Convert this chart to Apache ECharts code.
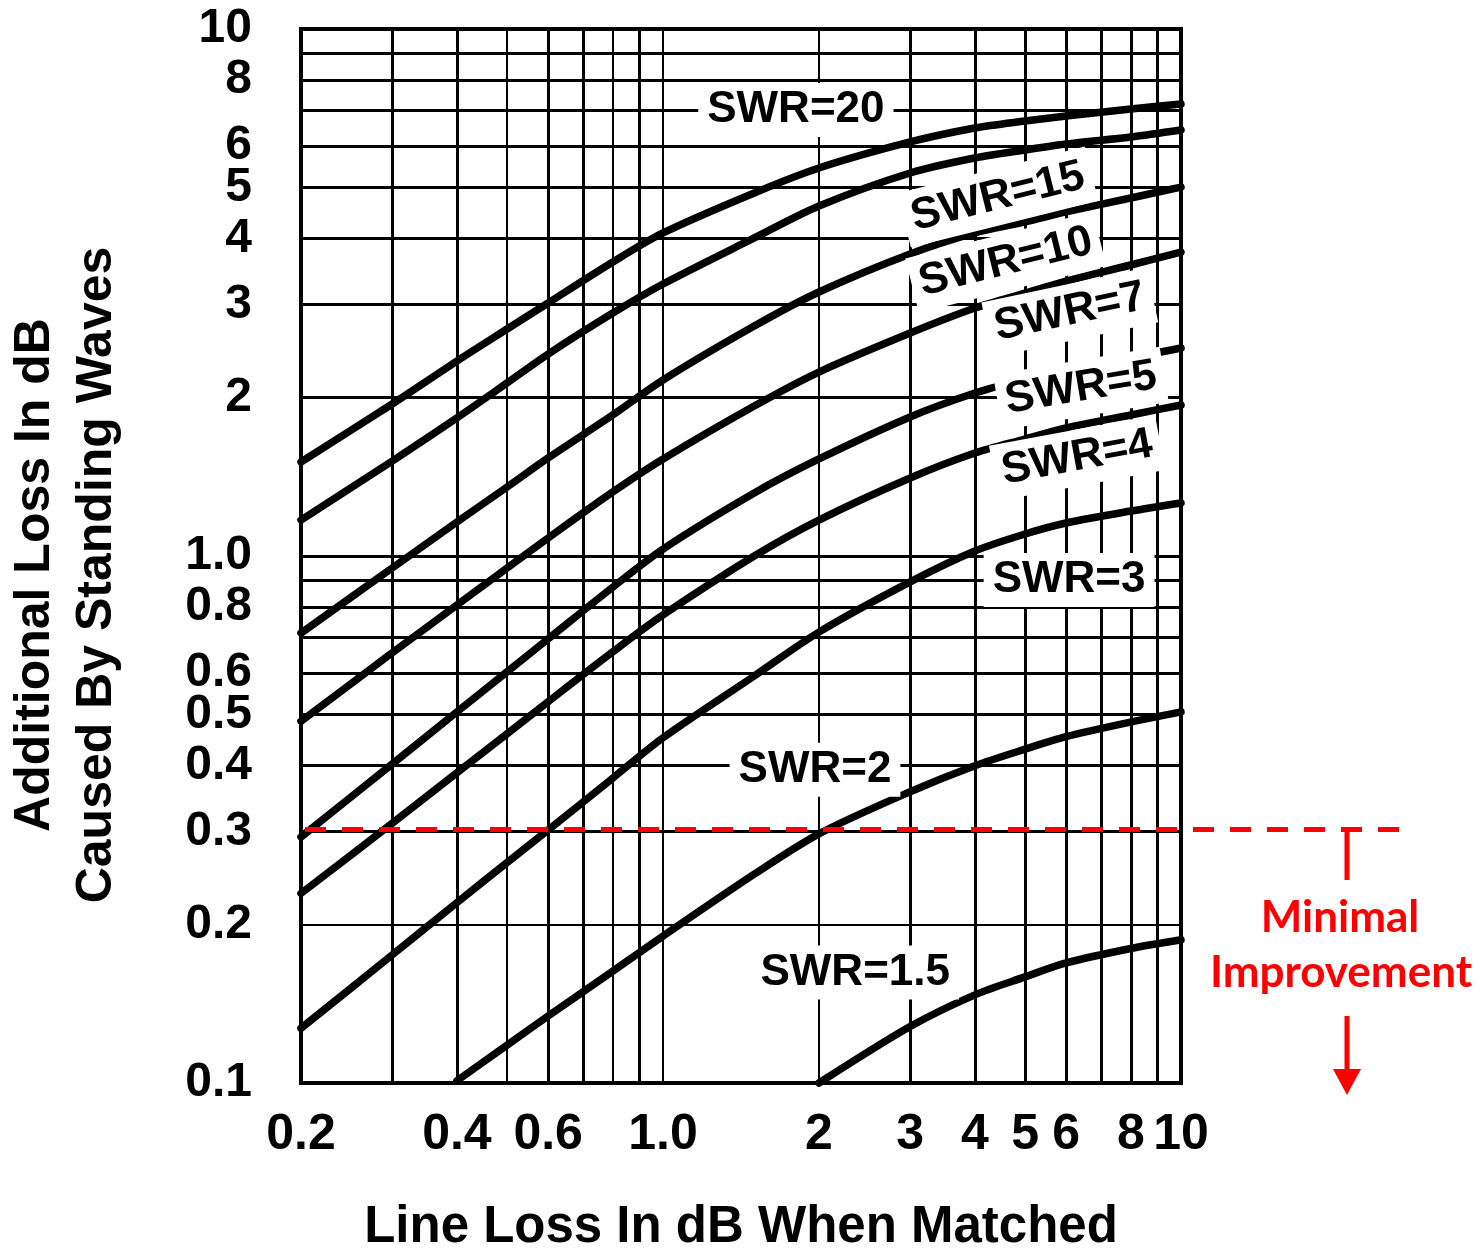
<!DOCTYPE html>
<html>
<head>
<meta charset="utf-8">
<script src="https://cdn.jsdelivr.net/npm/echarts@6/dist/echarts.min.js"></script>
<style>
html,body{margin:0;padding:0;background:#fff;}
#chart{width:1481px;height:1248px;}
</style>
</head>
<body>
<div id="chart"></div>
<script>
// ---- data ----
const lineLoss = [0.2, 0.3, 0.4, 0.5, 0.6, 0.8, 1.0, 1.5, 2, 3, 4, 5, 6, 8, 10];
const swr20  = [1.508, 1.943, 2.344, 2.696, 3.021, 3.613, 4.102, 4.885, 5.449, 6.105, 6.488, 6.689, 6.837, 7.050, 7.206];
const swr15  = [1.170, 1.514, 1.828, 2.130, 2.417, 2.891, 3.282, 4.013, 4.615, 5.331, 5.692, 5.895, 6.051, 6.239, 6.432];
const swr10  = [0.714, 0.949, 1.160, 1.352, 1.535, 1.852, 2.158, 2.731, 3.169, 3.742, 4.102, 4.304, 4.496, 4.779, 5.013];
const swr7   = [0.486, 0.655, 0.807, 0.949, 1.082, 1.323, 1.528, 1.926, 2.234, 2.649, 2.955, 3.155, 3.325, 3.566, 3.774];
const swr5   = [0.293, 0.403, 0.506, 0.603, 0.696, 0.873, 1.031, 1.317, 1.528, 1.836, 2.038, 2.168, 2.264, 2.376, 2.481];
const swr4   = [0.229, 0.311, 0.388, 0.460, 0.529, 0.658, 0.773, 1.000, 1.170, 1.406, 1.568, 1.667, 1.750, 1.852, 1.934];
const swr3   = [0.127, 0.175, 0.220, 0.262, 0.302, 0.379, 0.452, 0.592, 0.717, 0.893, 1.022, 1.101, 1.155, 1.217, 1.261];
const swr2   = [null, null, 0.101, 0.118, 0.134, 0.163, 0.190, 0.249, 0.297, 0.357, 0.400, 0.430, 0.454, 0.484, 0.506];
const swr1_5 = [null, null, null, null, null, null, null, null, 0.100, 0.128, 0.147, 0.159, 0.169, 0.180, 0.187];

const xTickLabels = [0.2, 0.4, 0.6, 1.0, 2, 3, 4, 5, 6, 8, 10];
const yTickLabels = [0.1, 0.2, 0.3, 0.4, 0.5, 0.6, 0.8, 1.0, 2, 3, 4, 5, 6, 8, 10];
const xGridValues = [0.3, 0.4, 0.5, 0.6, 0.7, 0.8, 0.9, 1, 2, 3, 4, 5, 6, 7, 8, 9];
const yGridValues = [0.2, 0.3, 0.4, 0.5, 0.6, 0.7, 0.8, 0.9, 1, 2, 3, 4, 5, 6, 7, 8, 9];
const thresholdLoss = 0.3;

const curveNames = ['SWR=20', 'SWR=15', 'SWR=10', 'SWR=7', 'SWR=5', 'SWR=4', 'SWR=3', 'SWR=2', 'SWR=1.5'];
const curveValues = [swr20, swr15, swr10, swr7, swr5, swr4, swr3, swr2, swr1_5];

// label anchors (data coordinates) and their rotation in degrees
const labelAnchors = [
  {at: [1.805, 7.02], rot: 0},
  {at: [4.43, 4.80], rot: 14},
  {at: [4.59, 3.61], rot: 14},
  {at: [6.10, 2.90], rot: 12},
  {at: [6.41, 2.08], rot: 9.5},
  {at: [6.30, 1.535], rot: 10.5},
  {at: [6.08, 0.90], rot: 0},
  {at: [1.965, 0.393], rot: 0},
  {at: [2.35, 0.162], rot: 0}
];

const FONT = '"Liberation Sans", Arial, sans-serif';
const thinX = [0.5, 0.8, 1, 2];
const thinY = [0.2];

function fmt(v) {
  const r = +(+v).toPrecision(3);
  return r === 1 ? '1.0' : String(r);
}

const chart = echarts.init(document.getElementById('chart'), null, {renderer: 'canvas'});

const gridLines = [];
xGridValues.forEach(v => gridLines.push({xAxis: v, lineStyle: {width: thinX.includes(v) ? 2 : 3}}));
yGridValues.forEach(v => gridLines.push({yAxis: v, lineStyle: {width: thinY.includes(v) ? 2 : 3}}));

const series = [{
  type: 'line',
  name: 'grid',
  data: [],
  symbol: 'none',
  silent: true,
  markLine: {
    silent: true,
    animation: false,
    symbol: ['none', 'none'],
    label: {show: false},
    emphasis: {disabled: true},
    lineStyle: {color: '#000', type: 'solid', width: 3},
    data: gridLines
  }
}];

curveNames.forEach((name, k) => {
  const pts = [];
  lineLoss.forEach((x, i) => {
    const y = curveValues[k][i];
    if (y != null) pts.push([x, y]);
  });
  series.push({
    type: 'line',
    name: name,
    data: pts,
    symbol: 'none',
    smooth: 0.3,
    clip: false,
    silent: true,
    lineStyle: {color: '#000', width: 7.5, cap: 'round', join: 'round'},
    z: 3
  });
});

const axisLabelCommon = {fontFamily: FONT, fontWeight: 'bold', color: '#000'};

chart.setOption({
  animation: false,
  backgroundColor: '#fff',
  grid: {left: 301, right: 300, top: 29, bottom: 165, outerBoundsMode: 'none', containLabel: false,
         show: true, borderColor: '#000', borderWidth: 4, backgroundColor: 'transparent'},
  xAxis: {
    type: 'log', logBase: 10, min: 0.2, max: 10,
    axisLine: {show: false}, axisTick: {show: false}, splitLine: {show: false},
    axisLabel: Object.assign({customValues: xTickLabels, formatter: fmt, fontSize: 50, margin: 27}, axisLabelCommon),
    name: 'Line Loss In dB When Matched',
    nameLocation: 'middle', nameGap: 119,
    nameTextStyle: {fontFamily: FONT, fontWeight: 'bold', fontSize: 51, color: '#000'}
  },
  yAxis: {
    type: 'log', logBase: 10, min: 0.1, max: 10,
    axisLine: {show: false}, axisTick: {show: false}, splitLine: {show: false},
    axisLabel: Object.assign({customValues: yTickLabels, formatter: fmt, fontSize: 48, margin: 49}, axisLabelCommon),
    name: 'Additional Loss In dB\nCaused By Standing Waves',
    nameLocation: 'middle', nameGap: 173, nameRotate: 90,
    nameTextStyle: {fontFamily: FONT, fontWeight: 'bold', fontSize: 50, lineHeight: 62, color: '#000',
                    padding: [0, 38, 0, 0]}
  },
  series: series
});

function drawOverlays() {
  const els = [];
  curveNames.forEach((name, k) => {
    const a = labelAnchors[k];
    const p = chart.convertToPixel({gridIndex: 0}, a.at);
    els.push({
      type: 'text', x: p[0], y: p[1], rotation: a.rot * Math.PI / 180, z: 100, silent: true,
      style: {
        text: name, font: 'bold 44px ' + FONT, fill: '#000',
        align: 'center', verticalAlign: 'middle',
        backgroundColor: '#fff', padding: a.rot ? [6, 8] : [5, 9]
      }
    });
  });
  const y0 = chart.convertToPixel({yAxisIndex: 0}, thresholdLoss) - 2;
  const xStart = chart.convertToPixel({xAxisIndex: 0}, 0.2) + 4;
  const red = '#FF0000';
  els.push({type: 'line', z: 101, silent: true, shape: {x1: xStart, y1: y0, x2: 1408, y2: y0},
    style: {stroke: red, lineWidth: 5, lineDash: [21, 16]}});
  els.push({type: 'line', z: 101, silent: true, shape: {x1: 1347, y1: y0, x2: 1347, y2: 880},
    style: {stroke: red, lineWidth: 5}});
  els.push({type: 'text', x: 1340, y: 918, z: 101, silent: true,
    style: {text: 'Minimal', font: 'bold 44px Lato, "Open Sans", sans-serif', fill: red, align: 'center', verticalAlign: 'middle'}});
  els.push({type: 'text', x: 1341, y: 973, z: 101, silent: true,
    style: {text: 'Improvement', font: 'bold 44px Lato, "Open Sans", sans-serif', fill: red, align: 'center', verticalAlign: 'middle'}});
  els.push({type: 'line', z: 101, silent: true, shape: {x1: 1347, y1: 1016, x2: 1347, y2: 1074},
    style: {stroke: red, lineWidth: 5}});
  els.push({type: 'polygon', z: 101, silent: true, shape: {points: [[1333, 1069], [1361, 1069], [1347, 1095]]},
    style: {fill: red}});
  chart.setOption({graphic: {elements: els}});
}
drawOverlays();
</script>
</body>
</html>
